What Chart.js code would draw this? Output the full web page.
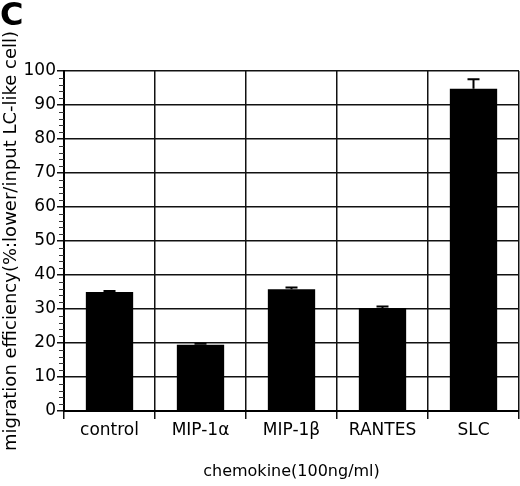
<!DOCTYPE html>
<html>
<head>
<meta charset="utf-8">
<script src="https://cdn.jsdelivr.net/npm/chart.js@4"></script>
<style>
  html, body { margin: 0; padding: 0; background: #fff; }
  #wrap { position: relative; width: 520px; height: 486px; }
</style>
</head>
<body>
<div id="wrap"><canvas id="chart" width="520" height="486"></canvas></div>
<script>
// values
const categories = ['control', 'MIP-1\u03b1', 'MIP-1\u03b2', 'RANTES', 'SLC'];
const efficiency = [35, 19.5, 35.8, 30.3, 94.8];
const errors = [0.3, 0.3, 0.5, 0.4, 2.8];
const yTicks = [0, 10, 20, 30, 40, 50, 60, 70, 80, 90, 100];

const font = 'DejaVu Sans';

// error bars drawn on top of the bars, through the y scale
const errorBars = {
  id: 'errorBars',
  afterDatasetsDraw(chart) {
    const ctx = chart.ctx;
    const y = chart.scales.y;
    const meta = chart.getDatasetMeta(0);
    ctx.save();
    ctx.strokeStyle = '#000';
    ctx.lineWidth = 2;
    meta.data.forEach((bar, i) => {
      const top = y.getPixelForValue(efficiency[i] + errors[i]);
      const base = y.getPixelForValue(efficiency[i]);
      ctx.beginPath();
      ctx.moveTo(bar.x, base);
      ctx.lineTo(bar.x, top);
      ctx.moveTo(bar.x - 6, top);
      ctx.lineTo(bar.x + 6, top);
      ctx.stroke();
    });
    ctx.restore();
  }
};

// minor ticks on the y axis every 2 units, plus the panel letter
const minorTicks = {
  id: 'minorTicks',
  afterDraw(chart) {
    const ctx = chart.ctx;
    const y = chart.scales.y;
    const left = chart.chartArea.left;
    ctx.save();
    ctx.strokeStyle = '#333';
    ctx.lineWidth = 1;
    for (let v = 2; v < 100; v += 2) {
      if (v % 10 === 0) continue;
      const py = Math.round(y.getPixelForValue(v)) + 0.5;
      ctx.beginPath();
      ctx.moveTo(left - 5, py);
      ctx.lineTo(left, py);
      ctx.stroke();
    }
    ctx.fillStyle = '#000';
    ctx.font = 'bold 32px ' + font;
    ctx.textBaseline = 'top';
    ctx.fillText('C', 0, 1);
    ctx.restore();
  }
};

new Chart(document.getElementById('chart'), {
  type: 'bar',
  data: {
    labels: categories,
    datasets: [{
      data: efficiency,
      backgroundColor: '#000',
      borderWidth: 0,
      barPercentage: 0.52,
      categoryPercentage: 1
    }]
  },
  options: {
    responsive: false,
    animation: false,
    layout: { padding: { left: 0, top: 71, right: 1, bottom: 0 } },
    plugins: { legend: { display: false }, tooltip: { enabled: false } },
    scales: {
      x: {
        afterFit(scale) { scale.height = 75; },
        grid: { color: '#111', lineWidth: 1.5, tickLength: 8, offset: true },
        border: { color: '#000', width: 2 },
        ticks: { color: '#000', font: { family: font, size: 17 }, padding: 1 },
        title: {
          display: true,
          text: 'chemokine(100ng/ml)',
          color: '#000',
          font: { family: font, size: 16 },
          padding: { top: 0, bottom: 5 }
        }
      },
      y: {
        min: 0,
        max: 100,
        afterFit(scale) { scale.width = 64; },
        afterBuildTicks(scale) { scale.ticks = yTicks.map(v => ({ value: v })); },
        grid: { color: '#111', lineWidth: 1.5, tickLength: 7 },
        border: { color: '#000', width: 2 },
        ticks: { color: '#000', font: { family: font, size: 17 }, padding: 1 },
        title: {
          display: true,
          text: 'migration efficiency(%:lower/input LC-like cell)',
          color: '#000',
          font: { family: font, size: 18 },
          padding: { top: 1, bottom: 0 }
        }
      }
    }
  },
  plugins: [errorBars, minorTicks]
});
</script>
</body>
</html>
